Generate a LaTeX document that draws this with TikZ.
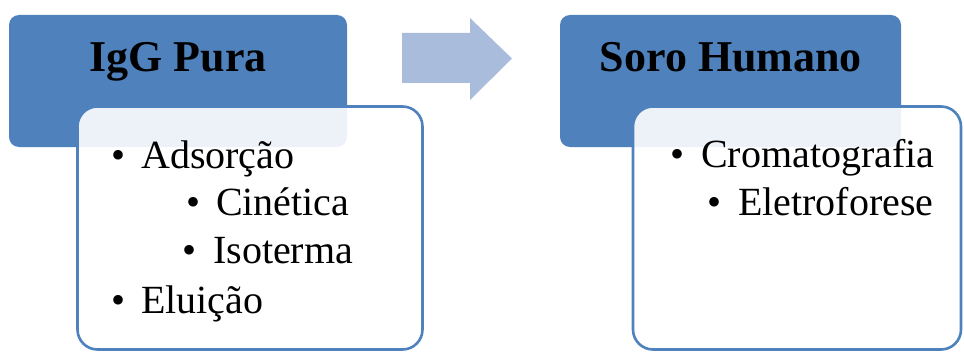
\documentclass[tikz,border=0pt]{standalone}
\usepackage{fontspec}
\setmainfont{Liberation Serif}
\definecolor{accent}{HTML}{4F81BD}
\definecolor{arrowblue}{HTML}{AABCDB}
\begin{document}
\begin{tikzpicture}[x=1pt, y=-1pt,
    head/.style = {fill=accent, rounded corners=10pt, inner sep=0pt},
    body/.style = {draw=accent, line width=2.6pt, fill=white, fill opacity=0.9, rounded corners=20pt, minimum height=243pt, inner sep=0pt},
    title/.style = {anchor=base, inner sep=0pt, font=\fontsize{44}{48}\selectfont\bfseries},
    item/.style = {anchor=base west, inner sep=0pt, font=\fontsize{40}{48}\selectfont}]
    \useasboundingbox (0,0) rectangle (964,353);
    % first group
    \node[head, minimum width=338pt, minimum height=132pt] (h1) at (178,81) {};
    \node[body, minimum width=345pt] (b1) at (250,228) {};
    \node[title] (t1) at (178,72) {IgG Pura};
    \node[item] (i1) at (111,168) {\makebox[30pt][l]{\textbullet}Adsorção};
    \node[item] (i2) at (186,215) {\makebox[30pt][l]{\textbullet}Cinética};
    \node[item] (i3) at (182,263) {\makebox[31pt][l]{\textbullet}Isoterma};
    \node[item] (i4) at (111,313) {\makebox[30pt][l]{\textbullet}Eluição};
    % arrow
    \fill[arrowblue] (402,33) -- (470,33) -- (470,18) -- (512,58.5) -- (470,100) -- (470,83) -- (402,83) -- cycle;
    % second group
    \node[head, minimum width=341pt, minimum height=132pt] (h2) at (730.5,81) {};
    \node[body, minimum width=328pt] (b2) at (797,228) {};
    \node[title] (t2) at (731,72) {Soro Humano};
    \node[item] (i5) at (670,167) {\makebox[31pt][l]{\textbullet}Cromatografia};
    \node[item] (i6) at (707,215) {\makebox[31pt][l]{\textbullet}Eletroforese};
\end{tikzpicture}
\end{document}
